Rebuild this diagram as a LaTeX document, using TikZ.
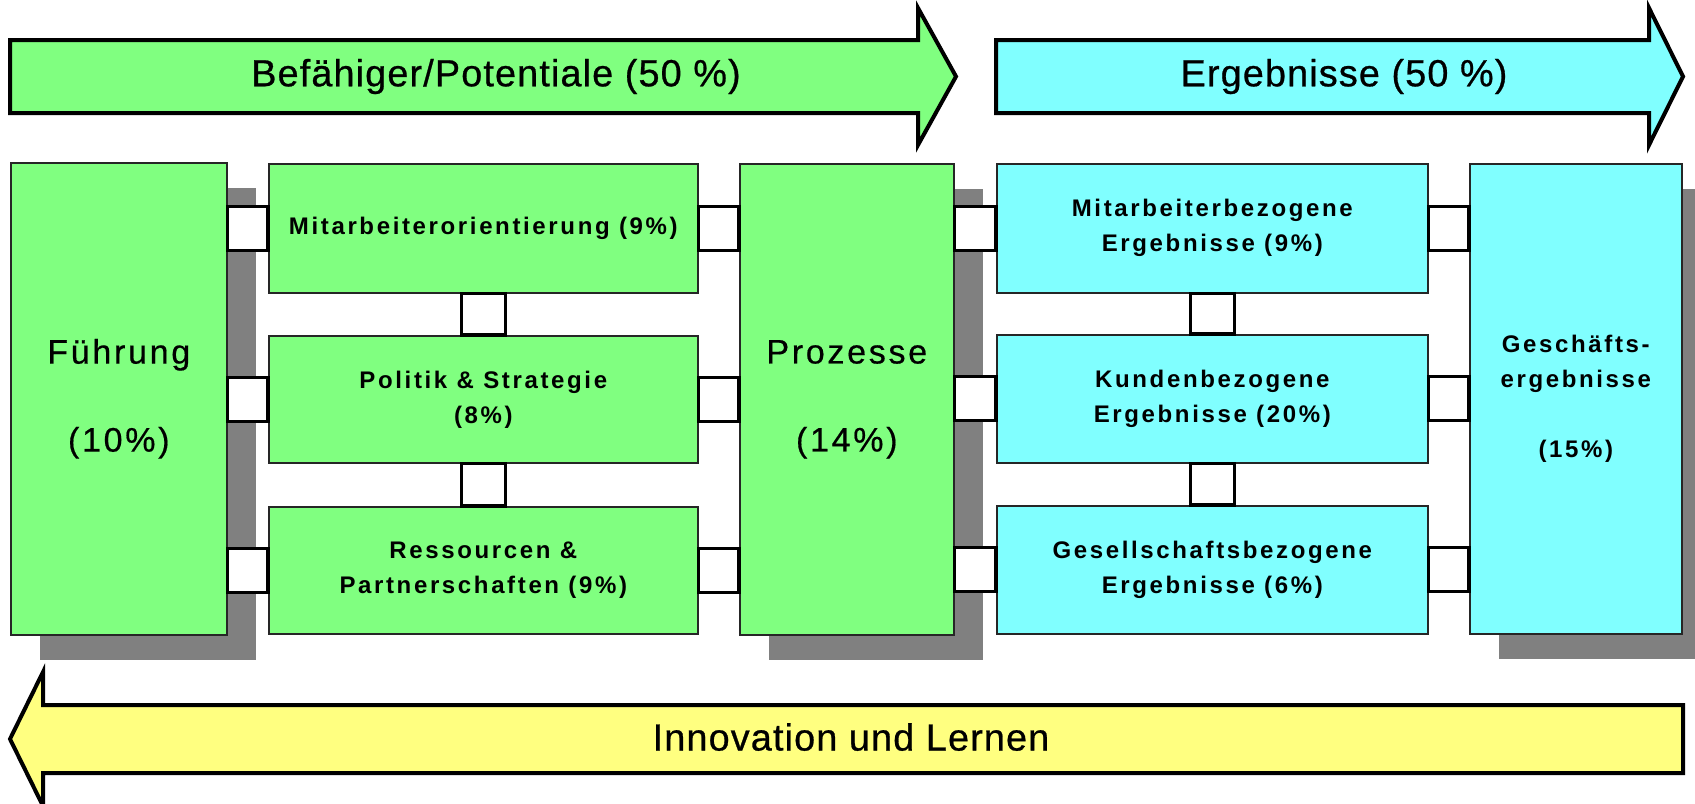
\documentclass[tikz,border=0pt]{standalone}
\usepackage{fontspec}
\setmainfont{Liberation Sans}
\newfontfamily\bigf[LetterSpace=3,FakeBold=0.7]{Liberation Sans}
\newfontfamily\medf[LetterSpace=8,FakeBold=0.5]{Liberation Sans}
\newfontfamily\smf[LetterSpace=11]{Liberation Sans}
\usetikzlibrary{calc,shadows}
\definecolor{lgreen}{HTML}{80FF80}
\definecolor{lcyan}{HTML}{80FFFF}
\definecolor{lyellow}{HTML}{FFFF80}
\definecolor{shadowgray}{HTML}{808080}
\tikzset{
  box/.style={draw=black!85, line width=0.8pt, inner sep=0pt, align=center, anchor=north west},
  gbox/.style={box, fill=lgreen},
  cbox/.style={box, fill=lcyan},
  shad/.style={drop shadow={shadow xshift=14.5pt, shadow yshift=-12.5pt, fill=shadowgray, opacity=1}},
  bigtxt/.style={font=\medf\fontsize{17pt}{44pt}\selectfont},
  smtxt/.style={font=\smf\bfseries\fontsize{12pt}{17.5pt}\selectfont},
  titletxt/.style={inner sep=0pt, font=\bigf\fontsize{18.9pt}{22pt}\selectfont},
  conn/.style={draw=black, line width=1.6pt, fill=white},
  arrowline/.style={draw=black, line width=2pt, line join=miter}
}
\begin{document}
\begin{tikzpicture}[x=0.5pt,y=-0.5pt]
\useasboundingbox (0,0) rectangle (1695,803);
\fill[white] (0,0) rectangle (1695,803);

% top arrows
\draw[arrowline, fill=lgreen] (10,40) -- (918,40) -- (918,8) -- (956,76.5) -- (918,145) -- (918,113) -- (10,113) -- cycle;
\node[titletxt] (tenab) at (496,76.5) {Befähiger/Potentiale (50 \%)};
\draw[arrowline, fill=lcyan] (996,40) -- (1649,40) -- (1649,8) -- (1683,76.5) -- (1649,145) -- (1649,113) -- (996,113) -- cycle;
\node[titletxt] (tres) at (1344,76.5) {Ergebnisse (50 \%)};

% bottom arrow
\draw[arrowline, fill=lyellow] (1683,705) -- (43,705) -- (43,672) -- (10,739) -- (43,806) -- (43,773) -- (1683,773) -- cycle;
\node[titletxt] (tinn) at (851,737) {Innovation und Lernen};

% big boxes
\node[gbox, shad, bigtxt, minimum width=216*0.5pt, minimum height=472*0.5pt] (fuehr) at (10,162) {Führung\\(10\%)};
\node[gbox, shad, bigtxt, minimum width=214*0.5pt, minimum height=471*0.5pt] (proz) at (739,163) {Prozesse\\(14\%)};
\node[cbox, shad, smtxt, minimum width=212*0.5pt, minimum height=470*0.5pt] (gesch) at (1469,163) {Geschäfts-\\ergebnisse\\[17.5pt](15\%)};

% small boxes
\node[gbox, smtxt, minimum width=429*0.5pt, minimum height=129*0.5pt] (m1) at (268,163) {Mitarbeiterorientierung (9\%)};
\node[gbox, smtxt, minimum width=429*0.5pt, minimum height=127*0.5pt] (m2) at (268,335) {Politik \& Strategie\\(8\%)};
\node[gbox, smtxt, minimum width=429*0.5pt, minimum height=127*0.5pt] (m3) at (268,506) {Ressourcen \&\\Partnerschaften (9\%)};
\node[cbox, smtxt, minimum width=431*0.5pt, minimum height=129*0.5pt] (e1) at (996,163) {Mitarbeiterbezogene\\Ergebnisse (9\%)};
\node[cbox, smtxt, minimum width=431*0.5pt, minimum height=128*0.5pt] (e2) at (996,334) {Kundenbezogene\\Ergebnisse (20\%)};
\node[cbox, smtxt, minimum width=431*0.5pt, minimum height=128*0.5pt] (e3) at (996,505) {Gesellschaftsbezogene\\Ergebnisse (6\%)};

% horizontal connectors
\foreach \a/\b in {fuehr/m1, fuehr/m2, fuehr/m3, proz/e1, proz/e2, proz/e3}{
  \draw[conn] ($(\a.east |- \b.center)+(0,-22)$) rectangle ($(\b.west)+(0,22)$);
}
\foreach \a/\b in {m1/proz, m2/proz, m3/proz, e1/gesch, e2/gesch, e3/gesch}{
  \draw[conn] ($(\a.east)+(0,-22)$) rectangle ($(\b.west |- \a.center)+(0,22)$);
}
% vertical connectors
\foreach \a/\b in {m1/m2, m2/m3, e1/e2, e2/e3}{
  \draw[conn] ($(\a.south)+(-22,0)$) rectangle ($(\b.north)+(22,0)$);
}
\end{tikzpicture}
\end{document}
